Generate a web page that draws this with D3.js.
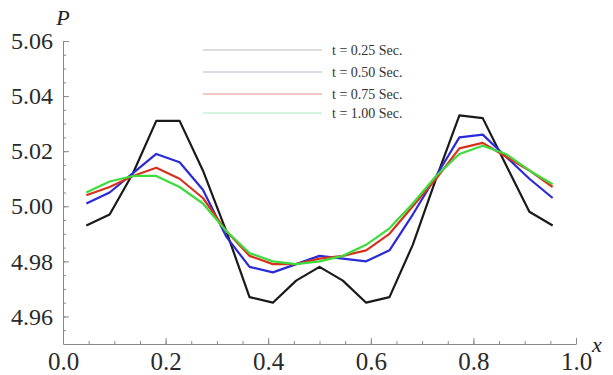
<!DOCTYPE html>
<html>
<head>
<meta charset="utf-8">
<script src="https://cdn.jsdelivr.net/npm/d3@7"></script>
<style>
  body { margin: 0; background: #fff; }
  svg { display: block; }
  .axis path, .axis line { stroke: #8a8a8a; }
</style>
</head>
<body>
<div id="body"></div>
<script>
// x positions of the nodes (k / 22, k = 1..21)
let xs = [0.0455, 0.0909, 0.1364, 0.1818, 0.2273, 0.2727, 0.3182, 0.3636, 0.4091, 0.4545, 0.5,
  0.5455, 0.5909, 0.6364, 0.6818, 0.7273, 0.7727, 0.8182, 0.8636, 0.9091, 0.9545]

let p025 = [4.993, 4.997, 5.012, 5.031, 5.031, 5.013, 4.991, 4.967, 4.965, 4.973, 4.978,
  4.973, 4.965, 4.967, 4.986, 5.010, 5.033, 5.032, 5.015, 4.998, 4.993]
let p050 = [5.001, 5.005, 5.012, 5.019, 5.016, 5.006, 4.989, 4.978, 4.976, 4.979, 4.982,
  4.981, 4.980, 4.984, 4.997, 5.011, 5.025, 5.026, 5.018, 5.010, 5.003]
let p075 = [5.004, 5.007, 5.011, 5.014, 5.010, 5.003, 4.991, 4.982, 4.979, 4.979, 4.981,
  4.982, 4.984, 4.990, 5.000, 5.010, 5.021, 5.023, 5.018, 5.013, 5.007]
let p100 = [5.005, 5.009, 5.011, 5.011, 5.007, 5.001, 4.991, 4.983, 4.980, 4.979, 4.980,
  4.982, 4.986, 4.992, 5.001, 5.011, 5.019, 5.022, 5.019, 5.013, 5.008]

let seriesNames = ["t = 0.25 Sec.", "t = 0.50 Sec.", "t = 0.75 Sec.", "t = 1.00 Sec."]
let xTicks = [0, 0.2, 0.4, 0.6, 0.8, 1.0]
let yTicks = [4.96, 4.98, 5.00, 5.02, 5.04, 5.06]

let series = [p025, p050, p075, p100]
let colors = ["#1a1a1a", "#2a2ad8", "#d8321e", "#3cdc3c"]
let legendColors = ["#d2d2d2", "#cfd2dc", "#f0b4b4", "#c8f0d8"]

let serif = "'Liberation Serif', 'DejaVu Serif', serif"
let width = 613, height = 375

let svg = d3.select("#body")
  .append("svg")
  .attr("width", width)
  .attr("height", height)

let x = d3.scaleLinear()
  .domain([0, 1])
  .range([63, 576])

let y = d3.scaleLinear()
  .domain([4.95, 5.06])
  .range([344, 41])

// minor ticks
svg.append("g")
  .attr("class", "axis")
  .attr("transform", "translate(0,344)")
  .call(d3.axisBottom(x).tickValues(d3.range(0.05, 1.0, 0.05)).tickSize(-3).tickFormat(""))
  .call(g => g.select(".domain").remove())
svg.append("g")
  .attr("class", "axis")
  .attr("transform", "translate(63,0)")
  .call(d3.axisLeft(y).tickValues(d3.range(4.955, 5.06, 0.005)).tickSize(-3).tickFormat(""))
  .call(g => g.select(".domain").remove())

// major ticks with labels
let xAxis = svg.append("g")
  .attr("class", "axis")
  .attr("transform", "translate(0,344)")
  .call(d3.axisBottom(x).tickValues(xTicks).tickSize(-6).tickSizeOuter(0).tickPadding(8).tickFormat(d3.format(".1f")))
xAxis.selectAll("text")
  .style("font-family", serif)
  .style("font-size", "25px")
  .style("fill", "#2a2a2a")
xAxis.select(".tick:first-of-type line").remove()

let yAxis = svg.append("g")
  .attr("class", "axis")
  .attr("transform", "translate(63,0)")
  .call(d3.axisLeft(y).tickValues(yTicks).tickSize(-6).tickSizeOuter(0).tickPadding(10).tickFormat(d3.format(".2f")))
yAxis.selectAll("text")
  .style("font-family", serif)
  .style("font-size", "24px")
  .style("fill", "#2a2a2a")

// axis labels
svg.append("text")
  .attr("x", 63)
  .attr("y", 25)
  .attr("text-anchor", "middle")
  .style("font-family", serif)
  .style("font-style", "italic")
  .style("font-size", "22px")
  .style("fill", "#222")
  .text("P")
svg.append("text")
  .attr("x", 597)
  .attr("y", 352)
  .attr("text-anchor", "middle")
  .style("font-family", serif)
  .style("font-style", "italic")
  .style("font-size", "22px")
  .style("fill", "#222")
  .text("x")

// curves
let line = d3.line()
  .x(function (d, i) { return x(xs[i]) })
  .y(function (d) { return y(d) })

svg.append("g")
  .selectAll("path")
  .data(series)
  .enter()
  .append("path")
  .attr("d", line)
  .attr("fill", "none")
  .attr("stroke", function (d, i) { return colors[i] })
  .attr("stroke-width", 2.2)
  .attr("stroke-linejoin", "round")

// legend
let legendY = [50, 72, 94, 113]
let legend = svg.append("g")
  .selectAll("g")
  .data(seriesNames)
  .enter()
  .append("g")
  .attr("transform", function (d, i) { return "translate(0," + legendY[i] + ")" })
legend.append("line")
  .attr("x1", 203)
  .attr("x2", 322)
  .attr("stroke", function (d, i) { return legendColors[i] })
  .attr("stroke-width", 1.5)
legend.append("text")
  .attr("x", 332)
  .attr("y", 5)
  .style("font-family", serif)
  .style("font-size", "14px")
  .style("fill", "#333")
  .text(function (d) { return d })
</script>
</body>
</html>
